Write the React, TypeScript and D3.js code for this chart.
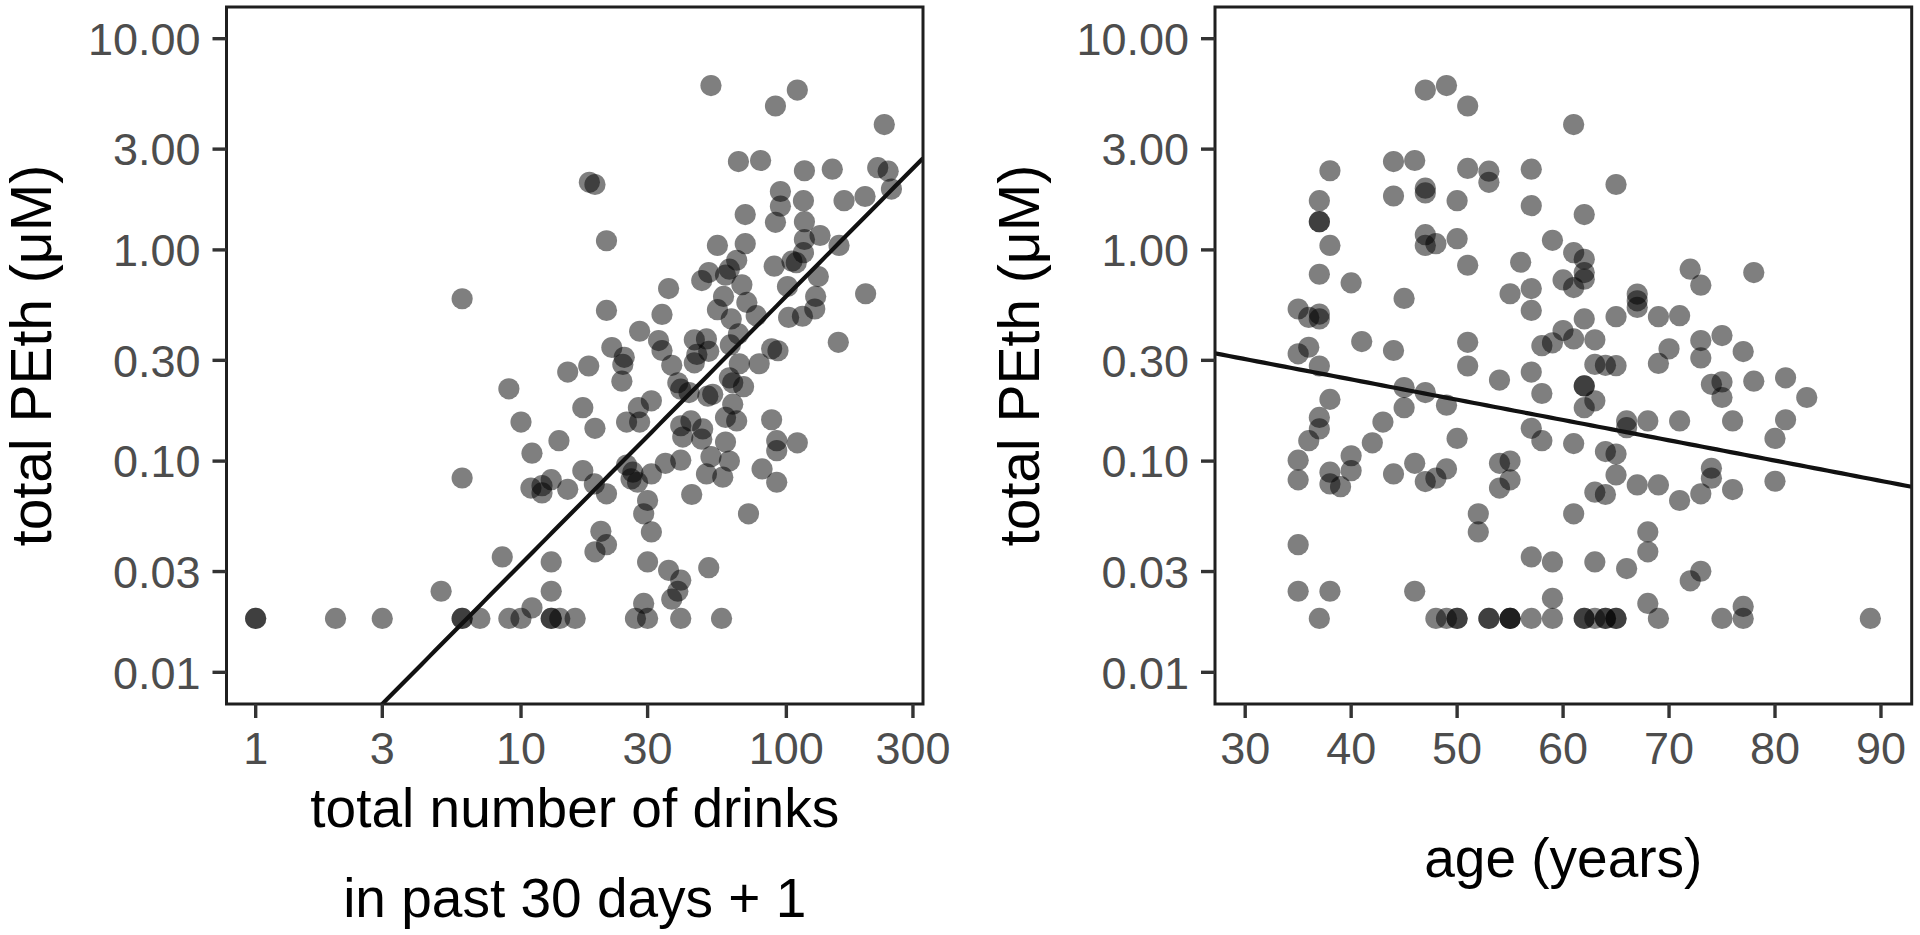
import React from "react";
import * as d3 from "d3";

// ---- Left panel: total number of drinks in past 30 days + 1 vs total PEth (µM)
const drinks = [
  6, 52, 110, 91, 234, 66, 80, 117, 149, 221, 242, 249, 18.1, 19, 95, 116, 165, 198, 95, 70,
  91, 117, 117, 134, 158, 21, 55, 70, 65, 116, 105, 109, 90, 51, 48, 59, 61, 68, 101, 132,
  36, 58, 129, 199, 21, 34, 55, 71, 62, 77, 102, 115, 128, 28, 33, 34, 22, 24.5, 45, 50,
  46, 66, 61.5, 88, 93, 157,
  24.2, 24, 18, 37, 45, 51, 66.5, 79, 39, 40, 43, 50.6, 52.8, 61, 62.8, 69, 62.8, 59, 65, 88,
  17.1, 19, 25, 27.7, 28, 31, 40, 43.7, 48.4, 40.7, 48, 59, 92, 110, 92, 52, 61, 40, 35, 25,
  26.4, 26, 27.5, 31, 50, 57.6, 81, 92, 17.1, 18.9, 21, 30, 29, 44, 72, 31, 20, 21, 19, 30,
  36, 40, 39, 37, 51, 29,
  27, 30, 40, 57, 16,
  1, 1, 2, 3, 6, 6, 7, 9, 10, 13, 13, 14,
  11, 5, 8.5, 13, 13, 6, 9, 10, 11, 13.9, 15, 10.9, 12, 13, 12, 15,
];
const pethByDrinks = [
  0.587, 6.0, 5.71, 4.8, 3.92, 2.62, 2.65, 2.37, 2.41, 2.45, 2.36, 1.94, 2.09, 2.04, 1.89, 1.71, 1.71, 1.79, 1.61, 1.47,
  1.35, 1.36, 1.12, 1.17, 1.05, 1.105, 1.05, 1.07, 0.893, 0.97, 0.884, 0.87, 0.837, 0.781, 0.716, 0.759, 0.81, 0.684, 0.671, 0.748,
  0.656, 0.602, 0.602, 0.62, 0.517, 0.495, 0.521, 0.564, 0.471, 0.488, 0.479, 0.485, 0.525, 0.412, 0.372, 0.334, 0.345, 0.31, 0.375, 0.379,
  0.32, 0.4, 0.355, 0.34, 0.333, 0.365,
  0.287, 0.239, 0.282, 0.284, 0.292, 0.331, 0.289, 0.289, 0.235, 0.219, 0.211, 0.203, 0.207, 0.248, 0.235, 0.225, 0.186, 0.161, 0.155, 0.157,
  0.179, 0.143, 0.153, 0.179, 0.153, 0.193, 0.147, 0.155, 0.142, 0.13, 0.127, 0.123, 0.125, 0.122, 0.112, 0.105, 0.1, 0.101, 0.0976, 0.0958,
  0.0886, 0.0823, 0.0794, 0.087, 0.087, 0.0839, 0.0918, 0.0794, 0.0901, 0.078, 0.07, 0.0651, 0.0563, 0.0695, 0.0563, 0.0462, 0.0465, 0.0402, 0.0372, 0.0333,
  0.0304, 0.0273, 0.0242, 0.0222, 0.0313, 0.0212,
  0.018, 0.018, 0.018, 0.018, 0.018,
  0.018, 0.018, 0.018, 0.018, 0.018, 0.018, 0.018, 0.018, 0.018, 0.018, 0.018, 0.018,
  0.0202, 0.0242, 0.0352, 0.0333, 0.0242, 0.0832, 0.22, 0.153, 0.109, 0.125, 0.264, 0.0745, 0.0765, 0.0817, 0.0707, 0.0735,
];

// ---- Right panel: age (years) vs total PEth (µM)
const ages = [
  47, 49, 51, 61, 38, 44, 46, 51, 53, 53, 57, 37, 44, 47, 47, 50, 57, 37, 37, 38,
  47, 47, 48, 50, 51, 37, 40, 45, 56, 55, 57, 57, 59, 60, 35, 36, 37, 37, 41, 44,
  51, 35, 36, 58, 59, 60,
  65, 62, 61, 62, 62, 62, 61, 67, 67, 67, 72, 73, 78, 62, 65, 69, 71, 61, 63, 73,
  75, 70, 77, 63, 64, 65, 69, 73, 62, 62, 63, 62, 74, 75, 75, 78, 81, 83, 66, 66,
  68, 71, 76, 81, 80, 61, 64, 65, 65, 67, 69, 74, 74, 63, 64, 71, 73, 76, 80, 61,
  68, 68, 63, 66, 59, 73, 72, 59, 68, 77,
  62, 62, 63, 64, 64, 65, 65, 69, 75, 77, 89,
  37, 51, 57, 54, 58, 38, 45, 47, 49, 45, 37, 37, 36, 43, 42, 50, 57, 58, 35, 35,
  38, 38, 39, 40, 40, 44, 46, 47, 48, 49, 54, 55, 55, 54, 52, 52, 35, 57, 35, 38,
  46,
  37, 48, 49, 50, 50, 53, 53, 55, 55, 55, 57, 59,
];
const pethByAge = [
  5.71, 6.0, 4.8, 3.92, 2.37, 2.62, 2.65, 2.43, 2.36, 2.09, 2.41, 1.71, 1.8, 1.96, 1.86, 1.71, 1.62, 1.36, 1.36, 1.05,
  1.18, 1.05, 1.07, 1.13, 0.846, 0.767, 0.698, 0.589, 0.874, 0.62, 0.656, 0.517, 1.11, 0.721, 0.525, 0.479, 0.497, 0.471, 0.368, 0.334,
  0.365, 0.322, 0.346, 0.352, 0.363, 0.415,
  2.04, 1.47, 0.97, 0.903, 0.781, 0.727, 0.663, 0.618, 0.574, 0.534, 0.81, 0.681, 0.781, 0.471, 0.483, 0.483, 0.488, 0.379, 0.375, 0.372,
  0.393, 0.34, 0.33, 0.287, 0.284, 0.283, 0.29, 0.308, 0.227, 0.227, 0.193, 0.179, 0.231, 0.237, 0.2, 0.239, 0.248, 0.2, 0.155, 0.144,
  0.155, 0.155, 0.155, 0.157, 0.128, 0.121, 0.111, 0.108, 0.086, 0.0771, 0.0771, 0.0925, 0.083, 0.0713, 0.0695, 0.0651, 0.07, 0.0733, 0.0803, 0.0563,
  0.0462, 0.0372, 0.0333, 0.031, 0.0333, 0.0301, 0.0271, 0.0224, 0.0212, 0.0205,
  0.018, 0.018, 0.018, 0.018, 0.018, 0.018, 0.018, 0.018, 0.018, 0.018, 0.018,
  0.282, 0.282, 0.264, 0.242, 0.209, 0.196, 0.223, 0.211, 0.184, 0.179, 0.161, 0.142, 0.125, 0.153, 0.122, 0.128, 0.143, 0.125, 0.101, 0.0815,
  0.0886, 0.078, 0.0757, 0.106, 0.0901, 0.087, 0.0976, 0.08, 0.083, 0.0918, 0.0976, 0.1, 0.0815, 0.0745, 0.0563, 0.0462, 0.0402, 0.0352, 0.0242, 0.0242,
  0.0242,
  0.018, 0.018, 0.018, 0.018, 0.018, 0.018, 0.018, 0.018, 0.018, 0.018, 0.018, 0.018,
];

// ---- Axis ticks
const yTickValues = [0.01, 0.03, 0.1, 0.3, 1, 3, 10];
const yTickLabels = ["0.01", "0.03", "0.10", "0.30", "1.00", "3.00", "10.00"];
const drinkTickValues = [1, 3, 10, 30, 100, 300];
const drinkTickLabels = ["1", "3", "10", "30", "100", "300"];
const ageTickValues = [30, 40, 50, 60, 70, 80, 90];
const ageTickLabels = ["30", "40", "50", "60", "70", "80", "90"];

// ---- Fitted lines: log10(PEth) = intercept + slope * term
const drinkFit = { intercept: -2.755, slope: 1.268 }; // term = log10(drinks)
const ageFit = { intercept: -0.2288, slope: -0.00961 }; // term = age

const FONT = "'Liberation Sans', Arial, Helvetica, sans-serif";
const W = 1920;
const H = 935;
const TOP = 7;
const BOTTOM = 704;
const TICK_LEN = 14;
const TICK_FS = 45;
const TITLE_FS = 55;
const YTITLE_FS = 57;

type PanelProps = {
  id: string;
  x0: number;
  x1: number;
  xScale: any;
  yScale: any;
  xs: number[];
  ys: number[];
  xTicks: number[];
  xLabels: string[];
  fitY: (x: number) => number;
  xTitleLines: { text: string; y: number }[];
  yTitleX: number;
};

function Panel(p: PanelProps) {
  const { id, x0, x1, xScale, yScale } = p;
  const [dx0, dx1] = xScale.domain();
  const isLog = typeof xScale.base === "function";
  const fitData: [number, number][] = d3.range(0, 101).map((i) => {
    const xv = isLog
      ? Math.pow(10, Math.log10(dx0) + ((Math.log10(dx1) - Math.log10(dx0)) * i) / 100)
      : dx0 + ((dx1 - dx0) * i) / 100;
    return [xv, p.fitY(xv)];
  });
  const lineGen = d3
    .line<[number, number]>()
    .x((d) => xScale(d[0]))
    .y((d) => yScale(d[1]));
  const cy = (TOP + BOTTOM) / 2;
  return (
    <g>
      <defs>
        <clipPath id={id}>
          <rect x={x0} y={TOP} width={x1 - x0} height={BOTTOM - TOP} />
        </clipPath>
      </defs>
      <rect x={x0} y={TOP} width={x1 - x0} height={BOTTOM - TOP} fill="#ffffff" />
      <g clipPath={`url(#${id})`}>
        {p.xs.map((xv, i) => (
          <circle
            key={i}
            cx={xScale(xv)}
            cy={yScale(p.ys[i])}
            r={10.6}
            fill="#000000"
            fillOpacity={0.5}
          />
        ))}
        <path d={lineGen(fitData) || ""} fill="none" stroke="#111111" strokeWidth={4.2} />
      </g>
      <rect
        x={x0}
        y={TOP}
        width={x1 - x0}
        height={BOTTOM - TOP}
        fill="none"
        stroke="#1f1f1f"
        strokeWidth={3}
      />
      {yTickValues.map((v, i) => (
        <g key={"y" + i}>
          <line
            x1={x0 - TICK_LEN}
            x2={x0}
            y1={yScale(v)}
            y2={yScale(v)}
            stroke="#333333"
            strokeWidth={3.4}
          />
          <text
            x={x0 - TICK_LEN - 12}
            y={yScale(v)}
            dy="0.36em"
            textAnchor="end"
            fontFamily={FONT}
            fontSize={TICK_FS}
            fill="#4d4d4d"
          >
            {yTickLabels[i]}
          </text>
        </g>
      ))}
      {p.xTicks.map((v, i) => (
        <g key={"x" + i}>
          <line
            x1={xScale(v)}
            x2={xScale(v)}
            y1={BOTTOM}
            y2={BOTTOM + TICK_LEN}
            stroke="#333333"
            strokeWidth={3.4}
          />
          <text
            x={xScale(v)}
            y={764}
            textAnchor="middle"
            fontFamily={FONT}
            fontSize={TICK_FS}
            fill="#4d4d4d"
          >
            {p.xLabels[i]}
          </text>
        </g>
      ))}
      {p.xTitleLines.map((l, i) => (
        <text
          key={"t" + i}
          x={(x0 + x1) / 2}
          y={l.y}
          textAnchor="middle"
          fontFamily={FONT}
          fontSize={TITLE_FS}
          fill="#000000"
        >
          {l.text}
        </text>
      ))}
      <text
        transform={`translate(${p.yTitleX},${cy}) rotate(-90)`}
        textAnchor="middle"
        fontFamily={FONT}
        fontSize={YTITLE_FS}
        fill="#000000"
      >
        total PEth (μM)
      </text>
    </g>
  );
}

export default function App() {
  const yScale = d3
    .scaleLog()
    .domain([Math.pow(10, -2.15), Math.pow(10, 1.15)])
    .range([BOTTOM, TOP]);

  const leftX0 = 226.5;
  const leftX1 = 923;
  const drinkScale = d3
    .scaleLog()
    .domain([Math.pow(10, -0.11), Math.pow(10, 2.515)])
    .range([leftX0, leftX1]);

  const rightX0 = 1215;
  const rightX1 = 1911.7;
  const ageScale = d3.scaleLinear().domain([27.15, 92.9]).range([rightX0, rightX1]);

  return (
    <svg
      width={W}
      height={H}
      viewBox={`0 0 ${W} ${H}`}
      style={{ position: "absolute", left: 0, top: 0, background: "#ffffff" }}
    >
      <rect x={0} y={0} width={W} height={H} fill="#ffffff" />
      <Panel
        id="clipLeft"
        x0={leftX0}
        x1={leftX1}
        xScale={drinkScale}
        yScale={yScale}
        xs={drinks}
        ys={pethByDrinks}
        xTicks={drinkTickValues}
        xLabels={drinkTickLabels}
        fitY={(x) => Math.pow(10, drinkFit.intercept + drinkFit.slope * Math.log10(x))}
        xTitleLines={[
          { text: "total number of drinks", y: 827 },
          { text: "in past 30 days + 1", y: 917 },
        ]}
        yTitleX={51}
      />
      <Panel
        id="clipRight"
        x0={rightX0}
        x1={rightX1}
        xScale={ageScale}
        yScale={yScale}
        xs={ages}
        ys={pethByAge}
        xTicks={ageTickValues}
        xLabels={ageTickLabels}
        fitY={(a) => Math.pow(10, ageFit.intercept + ageFit.slope * a)}
        xTitleLines={[{ text: "age (years)", y: 877 }]}
        yTitleX={1039}
      />
    </svg>
  );
}
